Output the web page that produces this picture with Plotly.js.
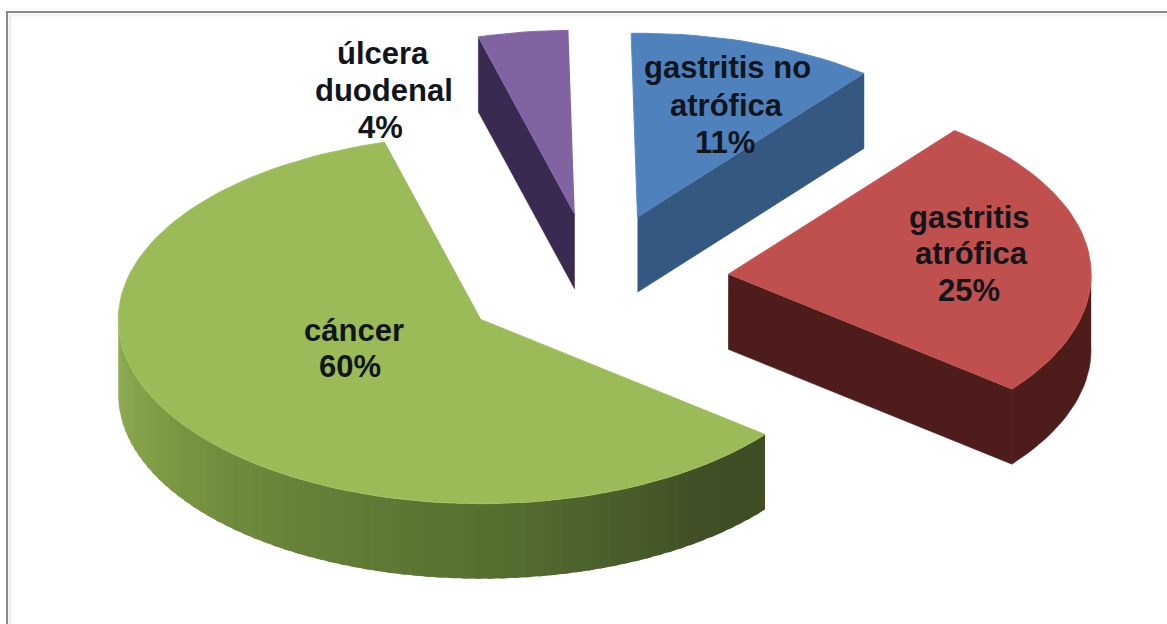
<!DOCTYPE html>
<html>
<head>
<meta charset="utf-8">
<script src="https://cdn.plot.ly/plotly-3.0.1.min.js"></script>
<style>html,body{margin:0;padding:0;background:#fff}#chart{width:1167px;height:624px}</style>
</head>
<body>
<div id="chart"></div>
<script>
// Diagnoses, in the order they run clockwise from twelve o'clock
const categories = ["gastritis no atrófica", "gastritis atrófica", "cáncer", "úlcera duodenal"];
const percentages = [11, 25, 60, 4];

// Line breaks used when each label is written
const labelLines = [["gastritis no", "atrófica"], ["gastritis", "atrófica"], ["cáncer"], ["úlcera", "duodenal"]];

// Face colours per slice
const topColors = ["#4f81bd", "#c0504d", "#9bbb59", "#8064a2"];
const rimColors = ["#5a8cc8", "#c95a57", "#a3c362", "#886cab"];
const cutColors = ["#34587f", "#4f1c1c", "#3d4c24", "#3a2a52"];

// Wall shading of the large slice: [clock angle, r, g, b]
const greenWall = [[127, 61, 76, 36], [142, 64, 79, 37], [177, 85, 111, 48], [210, 102, 130, 58], [240, 123, 154, 66], [270, 147, 176, 88]];

// Pie geometry, in plot units (axes run 1:1 with the page)
const centre = { x: 594, y: 282 };
const radiusX = 363, radiusY = 184, depth = 75, explode = 135, firstSliceAngle = -1;

// Label centres in plot units, one [x, y] per text row
const labelRows = [
  [[727, 67], [726, 105], [725, 142]],
  [[969, 217], [971, 253], [969, 290]],
  [[354, 330], [350, 366]],
  [[383, 53], [384, 90], [380, 127]]
];

const rad = d => d * Math.PI / 180;
const traces = [];

function rimPoint(c, a, drop) {
  return [c.x + radiusX * Math.sin(rad(a)), c.y - radiusY * Math.cos(rad(a)) + (drop || 0)];
}

function addPolygon(pts, fill, edge, width) {
  traces.push({
    type: "scatter", mode: "lines", fill: "toself", fillcolor: fill,
    x: pts.map(p => p[0]), y: pts.map(p => p[1]),
    line: { color: edge || fill, width: width === undefined ? 0 : width },
    hoverinfo: "skip", showlegend: false
  });
}

function arc(c, a0, a1, drop) {
  const out = [], n = Math.max(2, Math.ceil(Math.abs(a1 - a0) / 2));
  for (let i = 0; i <= n; i++) out.push(rimPoint(c, a0 + (a1 - a0) * i / n, drop));
  return out;
}

function wallColor(a) {
  for (let k = 1; k < greenWall.length; k++) {
    const p = greenWall[k - 1], q = greenWall[k];
    if (a <= q[0]) {
      const t = Math.max(0, (a - p[0]) / (q[0] - p[0]));
      return "rgb(" + [1, 2, 3].map(j => Math.round(p[j] + (q[j] - p[j]) * t)).join(",") + ")";
    }
  }
  return "rgb(147,176,88)";
}

// Slice spans derived from the percentages
const total = percentages.reduce((s, v) => s + v, 0);
let running = 0;
const slices = percentages.map((v, i) => {
  const start = firstSliceAngle + running / total * 360;
  running += v;
  const end = firstSliceAngle + running / total * 360;
  const mid = (start + end) / 2;
  const c = {
    x: centre.x + explode * Math.sin(rad(mid)),
    y: centre.y - explode * Math.cos(rad(mid)) * radiusY / radiusX
  };
  return { i, start, end, c };
});

// Painted back to front so nearer slices overlap farther ones
[3, 0, 1, 2].forEach(k => {
  const { i, start, end, c } = slices[k];
  // Cut faces: only those turned toward the viewer
  const cutFace = a => {
    const rim = rimPoint(c, a);
    addPolygon([[c.x, c.y], rim, [rim[0], rim[1] + depth], [c.x, c.y + depth]], cutColors[i], null, 0.5);
  };
  if (Math.sin(rad(start)) < -0.02) cutFace(start);
  if (Math.sin(rad(end)) > 0.02) cutFace(end);
  // Outer wall: only the part facing the viewer (clock angles 90 to 270)
  const a0 = Math.max(start, 90), a1 = Math.min(end, 270);
  if (a1 > a0) {
    if (i === 2) {
      // Shaded in narrow bands, each overlapping the next so no seams show
      const step = 2;
      for (let a = a1 - step; a > a0 - step; a -= step) {
        const from = Math.max(a, a0), to = Math.min(a + step + 1, a1);
        addPolygon(arc(c, from, to).concat(arc(c, to, from, depth)), wallColor((from + to) / 2));
      }
    } else {
      addPolygon(arc(c, a0, a1).concat(arc(c, a1, a0, depth)), cutColors[i], null, 0.5);
    }
  }
  addPolygon([[c.x, c.y]].concat(arc(c, start, end)), topColors[i], rimColors[i], 1);
});

// One annotation per text row, keeping the tight row spacing of the labels
const annotations = [];
categories.forEach((name, i) => {
  const rows = labelLines[i].concat([percentages[i] + "%"]);
  rows.forEach((row, r) => {
    annotations.push({
      x: labelRows[i][r][0], y: labelRows[i][r][1],
      xref: "x", yref: "y", text: row, showarrow: false,
      xanchor: "center", yanchor: "middle",
      font: { family: "Liberation Sans, Arial, sans-serif", size: 31, color: "#10161c", weight: 700 }
    });
  });
});

const hiddenAxis = { visible: false, fixedrange: true, showgrid: false, zeroline: false };

const layout = {
  width: 1167, height: 624,
  margin: { l: 0, r: 0, t: 0, b: 0 },
  paper_bgcolor: "#ffffff", plot_bgcolor: "#ffffff",
  showlegend: false,
  xaxis: Object.assign({ range: [0, 1167] }, hiddenAxis),
  yaxis: Object.assign({ range: [624, 0] }, hiddenAxis),
  annotations,
  shapes: [
    { type: "line", x0: 7, x1: 7, y0: 12, y1: 624, line: { color: "#8a8a8a", width: 2 } },
    { type: "line", x0: 6, x1: 1167, y0: 12, y1: 12, line: { color: "#8a8a8a", width: 2 } },
    { type: "line", x0: 10, x1: 10, y0: 14, y1: 624, line: { color: "#efefef", width: 3 } },
    { type: "line", x0: 8, x1: 1167, y0: 15, y1: 15, line: { color: "#f3f3f3", width: 3 } }
  ]
};

Plotly.newPlot("chart", traces, layout, { displayModeBar: false, staticPlot: true });
</script>
</body>
</html>
